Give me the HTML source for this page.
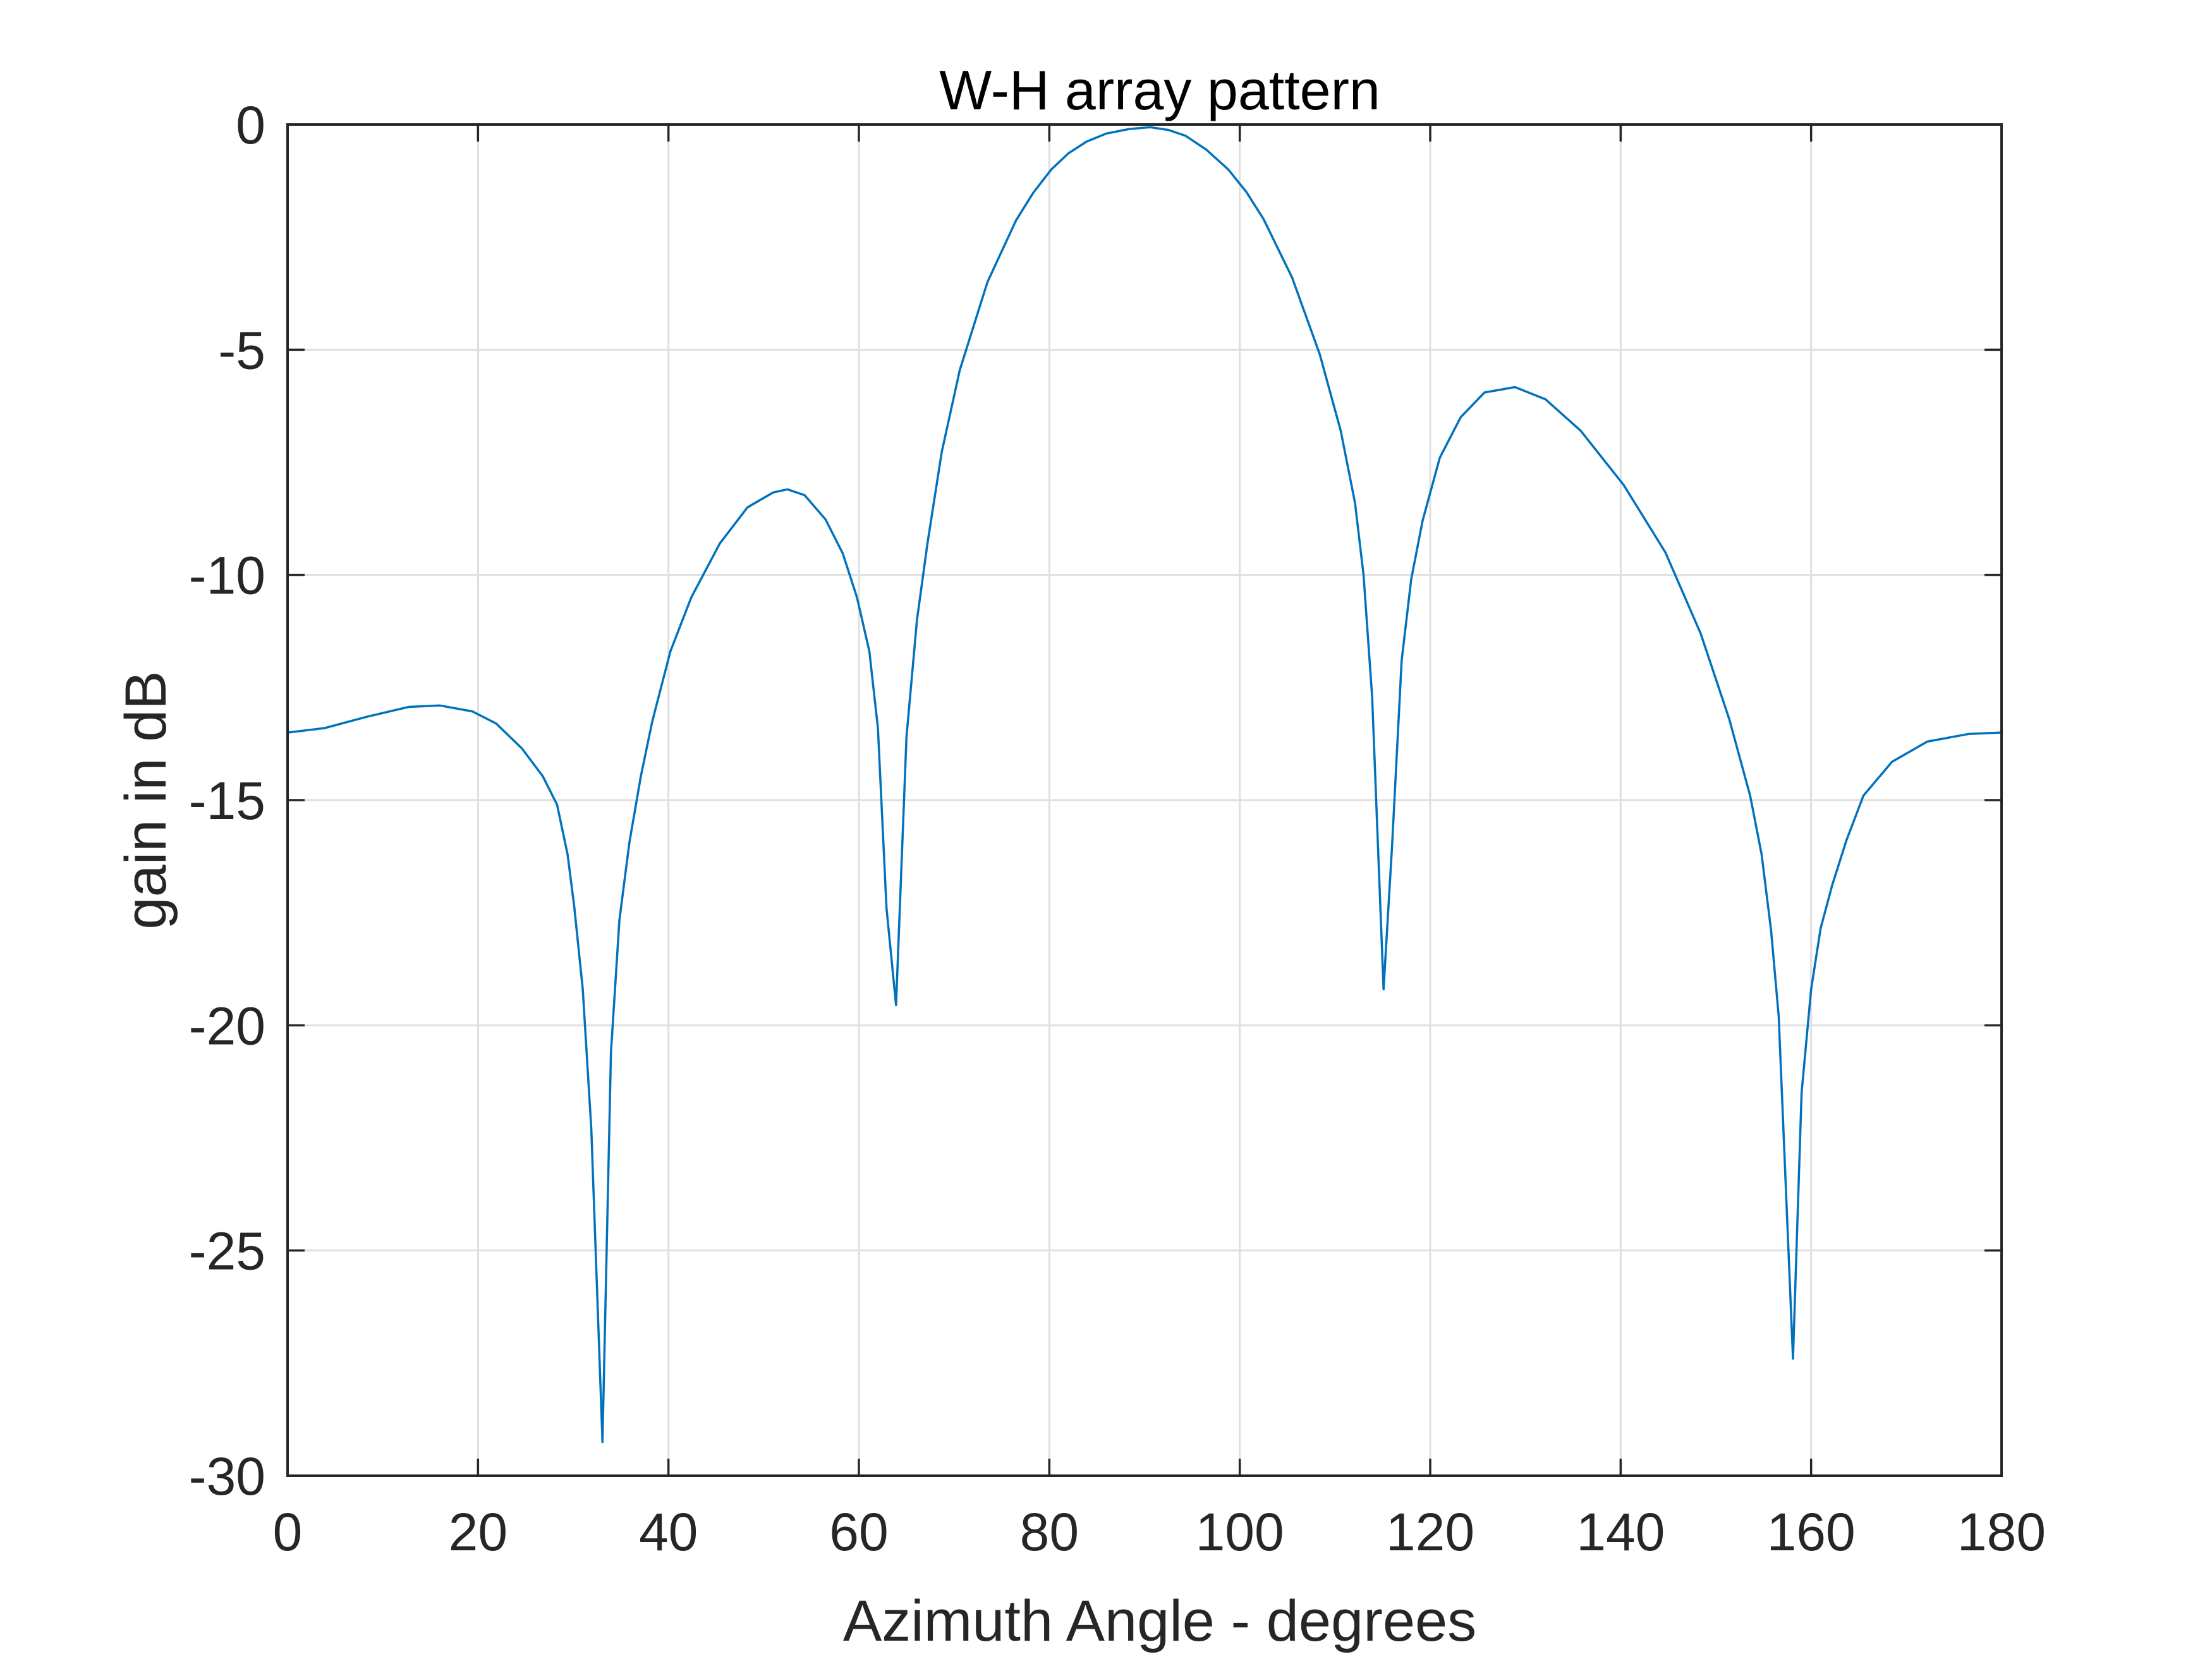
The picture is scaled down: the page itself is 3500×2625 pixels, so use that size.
<!DOCTYPE html>
<html><head><meta charset="utf-8"><style>
html,body{margin:0;padding:0;background:#fff}
svg{display:block}
text{font-family:"Liberation Sans",Arial,sans-serif;fill:#262626}
</style></head><body>
<svg id="chart" width="3500" height="2625" xmlns="http://www.w3.org/2000/svg">
<rect width="3500" height="2625" fill="#fff"/>
<g id="grid"></g>
<g id="series"></g>
<g id="axes"></g>
<text x="1835" y="173" font-size="88" text-anchor="middle" style="fill:#000">W-H array pattern</text>
<text x="1835" y="2596" font-size="92" text-anchor="middle">Azimuth Angle - degrees</text>
<text x="0" y="0" font-size="92" text-anchor="middle" transform="translate(262,1266) rotate(-90)">gain in dB</text>
</svg>
<script>
const angles = [0,3.9,8.3,12.75,16,19.4,21.9,24.6,26.8,28.3,29.4,30.1,31,31.9,33.07,33.96,34.85,35.9,37.1,38.3,40.2,42.4,45.4,48.3,51,52.5,54.3,56.5,58.3,59.8,61.1,62,62.9,63.9,65,66.1,67.2,68.7,70.6,73.5,76.5,78.3,80.2,82,83.9,86,88.4,90.6,92.5,94.3,96.5,98.8,100.7,102.5,105.5,108.4,110.6,112.1,113,113.9,115.1,116,117,118,119.2,121,123.2,125.7,128.9,132.1,135.8,140.3,144.7,148.4,151.4,153.6,154.8,155.8,156.6,158.1,159,160,161,162.2,163.7,165.5,168.5,172.2,176.6,180];
const gains = [-13.5,-13.4,-13.15,-12.93,-12.9,-13.03,-13.3,-13.85,-14.47,-15.1,-16.2,-17.35,-19.2,-22.3,-29.25,-20.6,-17.66,-15.94,-14.47,-13.25,-11.7,-10.5,-9.3,-8.5,-8.17,-8.1,-8.23,-8.77,-9.52,-10.5,-11.7,-13.4,-17.4,-19.55,-13.6,-11.0,-9.3,-7.27,-5.45,-3.5,-2.13,-1.52,-1.0,-0.64,-0.38,-0.2,-0.1,-0.06,-0.12,-0.25,-0.56,-1.0,-1.5,-2.1,-3.4,-5.1,-6.8,-8.4,-10,-12.7,-19.2,-16.0,-11.9,-10.1,-8.8,-7.4,-6.5,-5.95,-5.83,-6.1,-6.8,-8.0,-9.5,-11.3,-13.2,-14.9,-16.2,-17.9,-19.8,-27.4,-21.5,-19.2,-17.85,-16.9,-15.9,-14.9,-14.15,-13.7,-13.53,-13.5];
const xTicks = [0,20,40,60,80,100,120,140,160,180];
const yTicks = [0,-5,-10,-15,-20,-25,-30];

const L=455,R=3167,T=197,B=2335;
const xMin=0,xMax=180,yMin=-30,yMax=0;
function sx(v){return L+(v-xMin)/(xMax-xMin)*(R-L);}
function sy(v){return B-(v-yMin)/(yMax-yMin)*(B-T);}
const NS='http://www.w3.org/2000/svg';
function mk(tag,attrs,parent){const e=document.createElementNS(NS,tag);for(const k in attrs)e.setAttribute(k,attrs[k]);parent.appendChild(e);return e;}
const grid=document.getElementById('grid'),axes=document.getElementById('axes'),series=document.getElementById('series');

xTicks.forEach(v=>{
  const x=sx(v);
  const g=mk('line',{x1:x,y1:T,x2:x,y2:B,stroke:'#dfdfdf','stroke-width':3},grid);
  
  
  const t1=mk('line',{x1:x,y1:B,x2:x,y2:B-27,stroke:'#262626','stroke-width':3.5},axes);
  
  
  const t2=mk('line',{x1:x,y1:T,x2:x,y2:T+27,stroke:'#262626','stroke-width':3.5},axes);
  
  
  const lb=mk('text',{x:x,y:2453,'font-size':84,'text-anchor':'middle'},axes);
  lb.textContent=v;
  
  
});
yTicks.forEach(v=>{
  const y=sy(v);
  const g=mk('line',{x1:L,y1:y,x2:R,y2:y,stroke:'#dfdfdf','stroke-width':3},grid);
  
  
  const t1=mk('line',{x1:L,y1:y,x2:L+27,y2:y,stroke:'#262626','stroke-width':3.5},axes);
  
  
  const t2=mk('line',{x1:R,y1:y,x2:R-27,y2:y,stroke:'#262626','stroke-width':3.5},axes);
  
  
  const lb=mk('text',{x:420,y:y+30,'font-size':84,'text-anchor':'end'},axes);
  lb.textContent=v;
  
  
});
const box=mk('rect',{x:L,y:T,width:R-L,height:B-T,fill:'none',stroke:'#262626','stroke-width':4},axes);



const d=angles.map((a,i)=>(i?'L':'M')+sx(a).toFixed(1)+' '+sy(gains[i]).toFixed(1)).join(' ');
const line=mk('path',{d:d,fill:'none',stroke:'#0072BD','stroke-width':3.5,'stroke-linejoin':'round'},series);


</script>
</body></html>
